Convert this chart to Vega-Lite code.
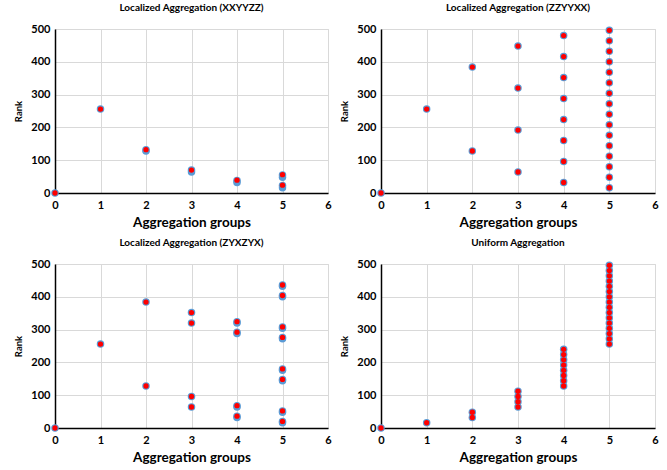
{
  "$schema": "https://vega.github.io/schema/vega-lite/v6.json",
  "padding": {"left": 13, "top": 2, "right": 2, "bottom": 0},
  "background": "white",
  "spacing": 8,
  "datasets": {
    "p1": [
      {"g": 0, "rank": 0, "s": "blue"}, {"g": 1, "rank": 256, "s": "blue"}, {"g": 2, "rank": 128, "s": "blue"}, {"g": 2, "rank": 132, "s": "blue"},
      {"g": 3, "rank": 64, "s": "blue"}, {"g": 3, "rank": 70, "s": "blue"}, {"g": 4, "rank": 32, "s": "blue"}, {"g": 4, "rank": 38, "s": "blue"},
      {"g": 5, "rank": 48, "s": "blue"}, {"g": 5, "rank": 55, "s": "blue"}, {"g": 5, "rank": 16, "s": "blue"}, {"g": 5, "rank": 23, "s": "blue"},
      {"g": 0, "rank": 0, "s": "red"}, {"g": 1, "rank": 256, "s": "red"}, {"g": 2, "rank": 132, "s": "red"}, {"g": 3, "rank": 70, "s": "red"},
      {"g": 4, "rank": 39, "s": "red"}, {"g": 5, "rank": 56, "s": "red"}, {"g": 5, "rank": 24, "s": "red"}
    ],
    "p2": [
      {"g": 0, "rank": 0}, {"g": 1, "rank": 256}, {"g": 2, "rank": 128}, {"g": 2, "rank": 384},
      {"g": 3, "rank": 64}, {"g": 3, "rank": 192}, {"g": 3, "rank": 320}, {"g": 3, "rank": 448},
      {"g": 4, "rank": 32}, {"g": 4, "rank": 96}, {"g": 4, "rank": 160}, {"g": 4, "rank": 224}, {"g": 4, "rank": 288}, {"g": 4, "rank": 352}, {"g": 4, "rank": 416}, {"g": 4, "rank": 480},
      {"g": 5, "rank": 16}, {"g": 5, "rank": 48}, {"g": 5, "rank": 80}, {"g": 5, "rank": 112}, {"g": 5, "rank": 144}, {"g": 5, "rank": 176}, {"g": 5, "rank": 208}, {"g": 5, "rank": 240},
      {"g": 5, "rank": 272}, {"g": 5, "rank": 304}, {"g": 5, "rank": 336}, {"g": 5, "rank": 368}, {"g": 5, "rank": 400}, {"g": 5, "rank": 432}, {"g": 5, "rank": 464}, {"g": 5, "rank": 496}
    ],
    "p3": [
      {"g": 0, "rank": 0, "s": "blue"}, {"g": 1, "rank": 256, "s": "blue"}, {"g": 2, "rank": 128, "s": "blue"}, {"g": 2, "rank": 384, "s": "blue"},
      {"g": 3, "rank": 64, "s": "blue"}, {"g": 3, "rank": 96, "s": "blue"}, {"g": 3, "rank": 320, "s": "blue"}, {"g": 3, "rank": 352, "s": "blue"},
      {"g": 4, "rank": 32, "s": "blue"}, {"g": 4, "rank": 36, "s": "blue"}, {"g": 4, "rank": 64, "s": "blue"}, {"g": 4, "rank": 68, "s": "blue"},
      {"g": 4, "rank": 288, "s": "blue"}, {"g": 4, "rank": 292, "s": "blue"}, {"g": 4, "rank": 320, "s": "blue"}, {"g": 4, "rank": 324, "s": "blue"},
      {"g": 5, "rank": 16, "s": "blue"}, {"g": 5, "rank": 20, "s": "blue"}, {"g": 5, "rank": 48, "s": "blue"}, {"g": 5, "rank": 52, "s": "blue"},
      {"g": 5, "rank": 144, "s": "blue"}, {"g": 5, "rank": 148, "s": "blue"}, {"g": 5, "rank": 176, "s": "blue"}, {"g": 5, "rank": 180, "s": "blue"},
      {"g": 5, "rank": 272, "s": "blue"}, {"g": 5, "rank": 276, "s": "blue"}, {"g": 5, "rank": 304, "s": "blue"}, {"g": 5, "rank": 308, "s": "blue"},
      {"g": 5, "rank": 400, "s": "blue"}, {"g": 5, "rank": 404, "s": "blue"}, {"g": 5, "rank": 432, "s": "blue"}, {"g": 5, "rank": 436, "s": "blue"},
      {"g": 0, "rank": 0, "s": "red"}, {"g": 1, "rank": 256, "s": "red"}, {"g": 2, "rank": 128, "s": "red"}, {"g": 2, "rank": 384, "s": "red"},
      {"g": 3, "rank": 64, "s": "red"}, {"g": 3, "rank": 96, "s": "red"}, {"g": 3, "rank": 320, "s": "red"}, {"g": 3, "rank": 352, "s": "red"},
      {"g": 4, "rank": 36, "s": "red"}, {"g": 4, "rank": 68, "s": "red"}, {"g": 4, "rank": 292, "s": "red"}, {"g": 4, "rank": 324, "s": "red"},
      {"g": 5, "rank": 20, "s": "red"}, {"g": 5, "rank": 52, "s": "red"}, {"g": 5, "rank": 148, "s": "red"}, {"g": 5, "rank": 180, "s": "red"},
      {"g": 5, "rank": 276, "s": "red"}, {"g": 5, "rank": 308, "s": "red"}, {"g": 5, "rank": 404, "s": "red"}, {"g": 5, "rank": 436, "s": "red"}
    ],
    "p4": [
      {"g": 0, "rank": 0}, {"g": 1, "rank": 16}, {"g": 2, "rank": 32}, {"g": 2, "rank": 48},
      {"g": 3, "rank": 64}, {"g": 3, "rank": 80}, {"g": 3, "rank": 96}, {"g": 3, "rank": 112},
      {"g": 4, "rank": 128}, {"g": 4, "rank": 144}, {"g": 4, "rank": 160}, {"g": 4, "rank": 176}, {"g": 4, "rank": 192}, {"g": 4, "rank": 208}, {"g": 4, "rank": 224}, {"g": 4, "rank": 240},
      {"g": 5, "rank": 256}, {"g": 5, "rank": 272}, {"g": 5, "rank": 288}, {"g": 5, "rank": 304}, {"g": 5, "rank": 320}, {"g": 5, "rank": 336}, {"g": 5, "rank": 352}, {"g": 5, "rank": 368},
      {"g": 5, "rank": 384}, {"g": 5, "rank": 400}, {"g": 5, "rank": 416}, {"g": 5, "rank": 432}, {"g": 5, "rank": 448}, {"g": 5, "rank": 464}, {"g": 5, "rank": 480}, {"g": 5, "rank": 496}
    ]
  },
  "config": {
    "font": "Lato",
    "view": {"stroke": "#d9d9d9", "strokeWidth": 1},
    "title": {"font": "Lato", "fontSize": 10, "fontWeight": "bold", "color": "#000000", "anchor": "middle", "offset": 10},
    "axis": {
      "domainColor": "#000000", "domainWidth": 1.5, "ticks": false,
      "gridColor": "#d9d9d9", "gridWidth": 1,
      "labelFont": "Lato", "labelFontWeight": "bold", "labelFontSize": 11, "labelColor": "#000000",
      "titleFont": "Lato", "titleFontWeight": "bold", "titleColor": "#000000"
    },
    "axisX": {"labelPadding": 6, "titleFontSize": 13.5, "titlePadding": 5, "labelFlush": false},
    "axisY": {"labelPadding": 5, "titleFontSize": 9.5, "titlePadding": 7}
  },
  "vconcat": [
    {
      "spacing": 7,
      "hconcat": [
        {
          "title": "Localized Aggregation  (XXYYZZ)",
          "width": 273, "height": 164,
          "data": {"name": "p1"},
          "encoding": {
            "x": {"field": "g", "type": "quantitative", "scale": {"domain": [0, 6], "nice": false}, "axis": {"values": [0, 1, 2, 3, 4, 5, 6], "title": "Aggregation groups"}},
            "y": {"field": "rank", "type": "quantitative", "scale": {"domain": [0, 500], "nice": false}, "axis": {"values": [0, 100, 200, 300, 400, 500], "title": "Rank"}}
          },
          "layer": [
            {"transform": [{"filter": "datum.s == 'blue'"}], "mark": {"type": "circle", "color": "#5b9bd5", "size": 56, "opacity": 1}},
            {"transform": [{"filter": "datum.s == 'red'"}], "mark": {"type": "circle", "color": "#ff0000", "size": 28, "opacity": 1}}
          ]
        },
        {
          "title": "Localized Aggregation  (ZZYYXX)",
          "width": 274, "height": 164,
          "data": {"name": "p2"},
          "encoding": {
            "x": {"field": "g", "type": "quantitative", "scale": {"domain": [0, 6], "nice": false}, "axis": {"values": [0, 1, 2, 3, 4, 5, 6], "title": "Aggregation groups"}},
            "y": {"field": "rank", "type": "quantitative", "scale": {"domain": [0, 500], "nice": false}, "axis": {"values": [0, 100, 200, 300, 400, 500], "title": "Rank"}}
          },
          "layer": [
            {"mark": {"type": "circle", "color": "#5b9bd5", "size": 56, "opacity": 1}},
            {"mark": {"type": "circle", "color": "#ff0000", "size": 28, "opacity": 1}}
          ]
        }
      ]
    },
    {
      "spacing": 7,
      "hconcat": [
        {
          "title": "Localized Aggregation  (ZYXZYX)",
          "width": 273, "height": 164,
          "data": {"name": "p3"},
          "encoding": {
            "x": {"field": "g", "type": "quantitative", "scale": {"domain": [0, 6], "nice": false}, "axis": {"values": [0, 1, 2, 3, 4, 5, 6], "title": "Aggregation groups"}},
            "y": {"field": "rank", "type": "quantitative", "scale": {"domain": [0, 500], "nice": false}, "axis": {"values": [0, 100, 200, 300, 400, 500], "title": "Rank"}}
          },
          "layer": [
            {"transform": [{"filter": "datum.s == 'blue'"}], "mark": {"type": "circle", "color": "#5b9bd5", "size": 56, "opacity": 1}},
            {"transform": [{"filter": "datum.s == 'red'"}], "mark": {"type": "circle", "color": "#ff0000", "size": 28, "opacity": 1}}
          ]
        },
        {
          "title": "Uniform Aggregation",
          "width": 274, "height": 164,
          "data": {"name": "p4"},
          "encoding": {
            "x": {"field": "g", "type": "quantitative", "scale": {"domain": [0, 6], "nice": false}, "axis": {"values": [0, 1, 2, 3, 4, 5, 6], "title": "Aggregation groups"}},
            "y": {"field": "rank", "type": "quantitative", "scale": {"domain": [0, 500], "nice": false}, "axis": {"values": [0, 100, 200, 300, 400, 500], "title": "Rank"}}
          },
          "layer": [
            {"mark": {"type": "circle", "color": "#5b9bd5", "size": 56, "opacity": 1}},
            {"mark": {"type": "circle", "color": "#ff0000", "size": 28, "opacity": 1}}
          ]
        }
      ]
    }
  ]
}
